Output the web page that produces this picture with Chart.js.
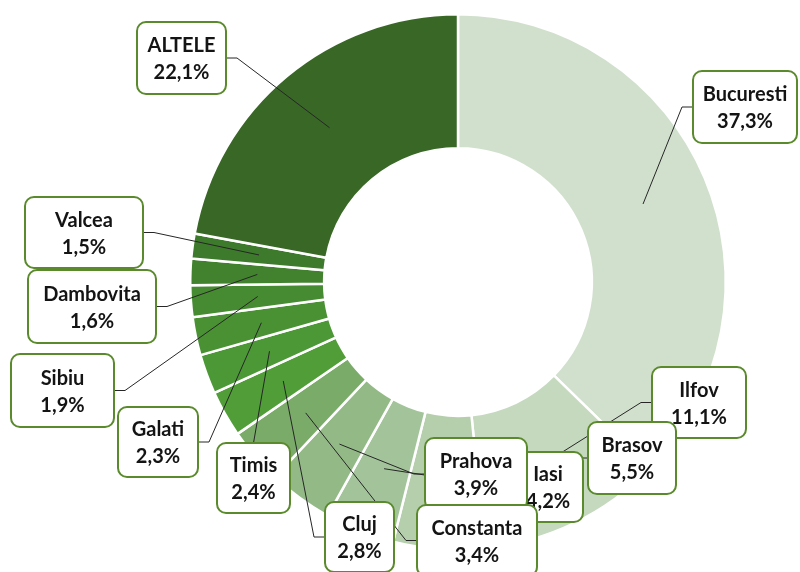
<!DOCTYPE html>
<html>
<head>
<meta charset="utf-8">
<script src="https://cdn.jsdelivr.net/npm/chart.js@4.4.1/dist/chart.umd.min.js"></script>
<style>
    body { margin: 0; background: #fff; }
    canvas { display: block; }
</style>
</head>
<body>
<canvas id="chart-judete" width="800" height="572"></canvas>
<script>
// Date - ordinea feliilor, in sensul acelor de ceas, de sus
let regiuni = ['Bucuresti', 'Ilfov', 'Brasov', 'Iasi', 'Prahova', 'Constanta', 'Cluj', 'Timis', 'Galati', 'Sibiu', 'Dambovita', 'Valcea', 'ALTELE'];
let procente = [37.3, 11.1, 5.5, 4.2, 3.9, 3.4, 2.8, 2.4, 2.3, 1.9, 1.6, 1.5, 22.1];
let culori = ['#d1e0cd', '#c5d9bf', '#b5cfad', '#a3c49a', '#93ba86', '#7aab69', '#519d38', '#4d9836', '#4a9134', '#468a31', '#42822f', '#3e7a2c', '#386726'];

// Pozitia casetelor de eticheta (x, y, latime, inaltime, partea liniei)
let casete = [
    { x: 693, y: 71, w: 104, h: 72, parte: 'stanga' },
    { x: 652, y: 367, w: 94, h: 71, parte: 'stanga' },
    { x: 588, y: 422, w: 88, h: 72, parte: 'stanga' },
    { x: 513, y: 452, w: 70, h: 70, parte: 'stanga' },
    { x: 425, y: 438, w: 102, h: 72, parte: 'stanga' },
    { x: 417, y: 505, w: 120, h: 71, parte: 'stanga' },
    { x: 325, y: 502, w: 69, h: 70, parte: 'stanga' },
    { x: 217, y: 443, w: 73, h: 70, parte: 'sus' },
    { x: 118, y: 407, w: 80, h: 70, parte: 'dreapta' },
    { x: 11, y: 354, w: 103, h: 73, parte: 'dreapta' },
    { x: 28, y: 270, w: 128, h: 73, parte: 'dreapta' },
    { x: 25, y: 197, w: 118, h: 71, parte: 'dreapta' },
    { x: 137, y: 22, w: 89, h: 72, parte: 'dreapta' }
];

function formatProcent(v) {
    return v.toFixed(1).replace('.', ',') + '%';
}

const eticheteExcel = {
    id: 'eticheteExcel',
    afterDraw: (chart) => {
        const ctx = chart.ctx;
        const meta = chart.getDatasetMeta(0);

        // liniile de legatura - desenate sub casete
        meta.data.forEach((arc, i) => {
            const c = casete[i];
            const unghi = (arc.startAngle + arc.endAngle) / 2;
            const r = (arc.innerRadius + arc.outerRadius) / 2;
            const px = arc.x + Math.cos(unghi) * r;
            const py = arc.y + Math.sin(unghi) * r;
            let ax, ay, sx, sy;
            if (c.parte == 'stanga') {
                ax = c.x; ay = c.y + c.h / 2; sx = ax - 11; sy = ay;
            } else if (c.parte == 'dreapta') {
                ax = c.x + c.w; ay = c.y + c.h / 2; sx = ax + 11; sy = ay;
            } else {
                ax = c.x + c.w / 2; ay = c.y; sx = ax; sy = ay;
            }
            ctx.save();
            ctx.strokeStyle = '#262626';
            ctx.lineWidth = 1;
            ctx.beginPath();
            ctx.moveTo(ax, ay);
            ctx.lineTo(sx, sy);
            ctx.lineTo(px, py);
            ctx.stroke();
            ctx.restore();
        });

        // casetele cu text
        meta.data.forEach((arc, i) => {
            const c = casete[i];
            ctx.save();
            ctx.fillStyle = '#ffffff';
            ctx.strokeStyle = '#5a8a2c';
            ctx.lineWidth = 2;
            ctx.beginPath();
            ctx.roundRect(c.x, c.y, c.w, c.h, 9);
            ctx.fill();
            ctx.stroke();
            ctx.fillStyle = '#141414';
            ctx.font = 'bold 20px Lato';
            ctx.textAlign = 'center';
            ctx.textBaseline = 'middle';
            const cx = c.x + c.w / 2;
            const cy = c.y + c.h / 2;
            ctx.fillText(regiuni[i], cx, cy - 12);
            ctx.fillText(formatProcent(procente[i]), cx, cy + 15);
            ctx.restore();
        });
    }
};

const configDoughnut = {
    type: 'doughnut',
    data: {
        labels: regiuni,
        datasets: [{
            data: procente,
            backgroundColor: culori,
            borderColor: '#ffffff',
            borderWidth: 2.5,
            hoverOffset: 0
        }]
    },
    options: {
        responsive: false,
        animation: false,
        cutout: '50%',
        layout: {
            padding: { top: 13, bottom: 21, left: 116, right: 0 }
        },
        plugins: {
            legend: { display: false },
            tooltip: { enabled: false }
        }
    },
    plugins: [eticheteExcel]
};

const myChart = new Chart('chart-judete', configDoughnut);
</script>
</body>
</html>
